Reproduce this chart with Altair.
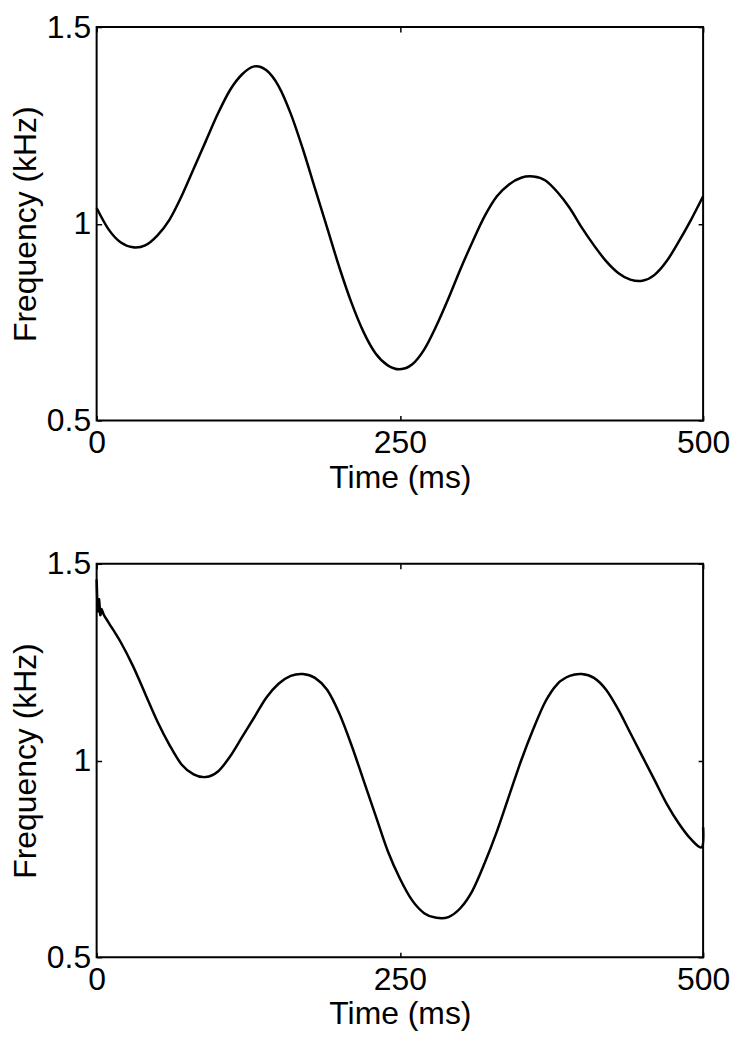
import altair as alt
import pandas as pd

# Top panel: time (ms) and frequency (kHz)
t_top = [0, 10, 20, 30, 40, 50, 60, 70, 80, 90, 100, 110, 120, 130, 140, 150, 160, 170, 180, 190,
         200, 210, 220, 230, 240, 250, 260, 270, 280, 290, 300, 310, 320, 330, 340, 350, 360, 370,
         380, 390, 400, 410, 420, 430, 440, 450, 460, 470, 480, 490, 500]
f_top = [1.04, 0.985, 0.952, 0.94, 0.945, 0.97, 1.01, 1.07, 1.14, 1.21, 1.28, 1.34, 1.38, 1.40, 1.39,
         1.35, 1.28, 1.19, 1.09, 0.99, 0.89, 0.80, 0.725, 0.67, 0.64, 0.63, 0.642, 0.68, 0.74, 0.81,
         0.885, 0.955, 1.02, 1.07, 1.10, 1.117, 1.12, 1.11, 1.08, 1.04, 0.99, 0.945, 0.905, 0.875, 0.858,
         0.855, 0.87, 0.905, 0.955, 1.01, 1.07]

# Bottom panel
t_bot = [0, 1, 2, 3, 4, 6, 10, 20, 30, 40, 50, 60, 70, 80, 90, 100, 110, 120, 130, 140, 150, 160, 170,
         180, 190, 200, 210, 220, 230, 240, 250, 260, 270, 280, 290, 300, 310, 320, 330, 340, 350,
         360, 370, 380, 390, 400, 410, 420, 430, 440, 450, 460, 470, 480, 490, 499, 500]
f_bot = [1.46, 1.38, 1.41, 1.37, 1.385, 1.37, 1.35, 1.30, 1.24, 1.17, 1.10, 1.04, 0.99, 0.965, 0.958,
         0.972, 1.01, 1.06, 1.11, 1.16, 1.195, 1.215, 1.22, 1.21, 1.18, 1.12, 1.04, 0.95, 0.86, 0.77,
         0.70, 0.645, 0.612, 0.60, 0.602, 0.625, 0.67, 0.74, 0.82, 0.91, 1.00, 1.08, 1.15, 1.195, 1.215,
         1.22, 1.21, 1.18, 1.13, 1.07, 1.01, 0.95, 0.89, 0.84, 0.80, 0.78, 0.83]

x_ticks = [0, 250, 500]
y_ticks = [0.5, 1, 1.5]
x_title = "Time (ms)"
y_title = "Frequency (kHz)"

W, H = 609, 395
FONT = "Liberation Sans"
FS = 32


def panel(t, f):
    df = pd.DataFrame({"t": t, "f": f})
    xs = alt.Scale(domain=[0, 500], nice=False, zero=False)
    ys = alt.Scale(domain=[0.5, 1.5], nice=False, zero=False)
    base = alt.Chart(df)

    main = base.mark_line(color="black", strokeWidth=2.5, interpolate="cardinal", tension=0).encode(
        x=alt.X("t:Q", scale=xs, axis=alt.Axis(
            values=x_ticks, title=x_title, ticks=False, domain=False, grid=False,
            labelFlush=False, labelOverlap=False, labelPadding=7, titlePadding=4)),
        y=alt.Y("f:Q", scale=ys, axis=alt.Axis(
            values=y_ticks, title=y_title, ticks=False, domain=False, grid=False,
            format="~g", labelPadding=6, titlePadding=4, labelOverlap=False)),
    )
    # inward ticks on bottom and left edges
    tick_a = base.mark_line(opacity=0).encode(
        x=alt.X("t:Q", scale=xs, axis=alt.Axis(
            orient="top", offset=-H, values=x_ticks, labels=False, title=None,
            domain=False, grid=False, ticks=True, tickSize=5, tickColor="black", tickWidth=1.5)),
        y=alt.Y("f:Q", scale=ys, axis=alt.Axis(
            orient="right", offset=-W, values=y_ticks, labels=False, title=None,
            domain=False, grid=False, ticks=True, tickSize=5, tickColor="black", tickWidth=1.5)),
    )
    # inward ticks on top and right edges
    tick_b = base.mark_line(opacity=0).encode(
        x=alt.X("t:Q", scale=xs, axis=alt.Axis(
            orient="bottom", offset=-H, values=x_ticks, labels=False, title=None,
            domain=False, grid=False, ticks=True, tickSize=5, tickColor="black", tickWidth=1.5)),
        y=alt.Y("f:Q", scale=ys, axis=alt.Axis(
            orient="left", offset=-W, values=y_ticks, labels=False, title=None,
            domain=False, grid=False, ticks=True, tickSize=5, tickColor="black", tickWidth=1.5)),
    )
    return alt.layer(main, tick_a, tick_b).resolve_scale(
        x="independent", y="independent").properties(width=W, height=H)


chart = alt.vconcat(panel(t_top, f_top), panel(t_bot, f_bot), spacing=53).configure_view(
    stroke="black", strokeWidth=2
).configure_axis(
    labelFont=FONT, titleFont=FONT, labelFontSize=FS, titleFontSize=FS,
    labelColor="black", titleColor="black", titleFontWeight="normal"
).properties(padding={"left": 0, "top": 0, "right": 0, "bottom": 0})

chart.save("out.html", embed_options={"renderer": "svg", "actions": False})
